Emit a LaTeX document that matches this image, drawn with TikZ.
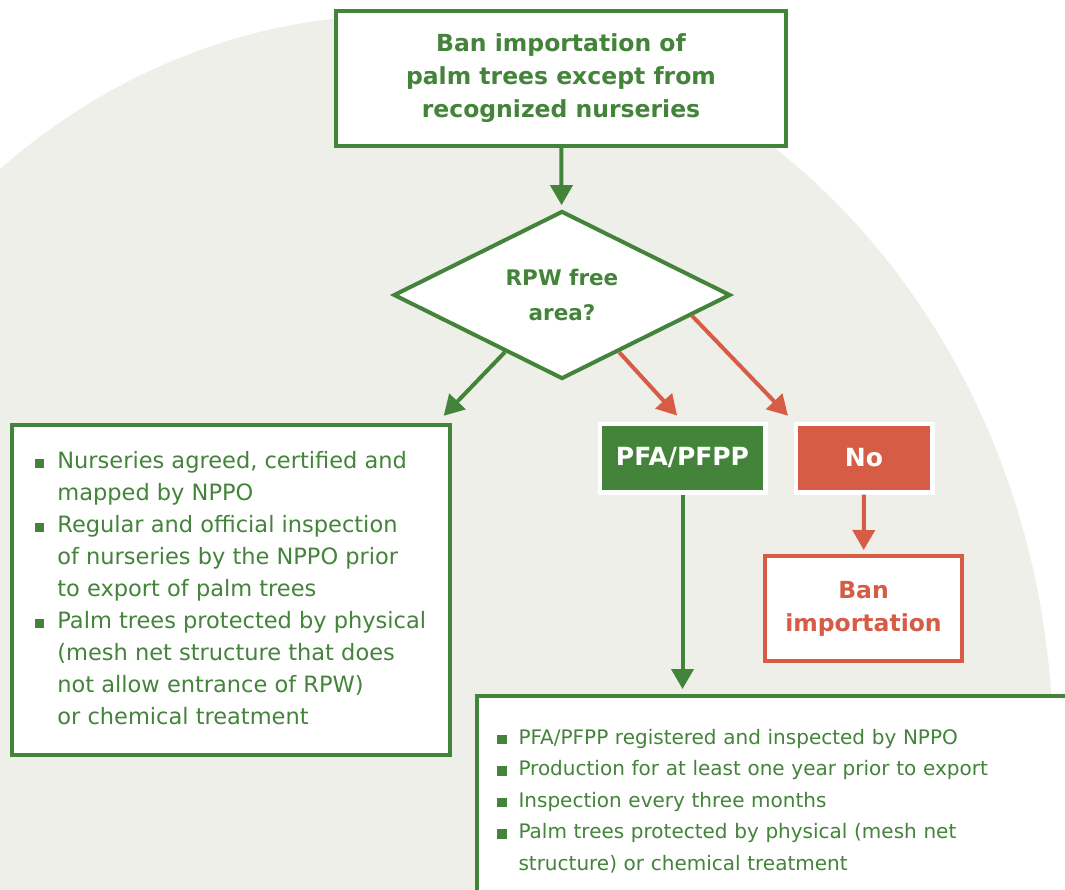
\documentclass[tikz,border=0pt]{standalone}
\usepackage{fontspec}
\setmainfont{DejaVu Sans}
\usetikzlibrary{arrows.meta,shapes.geometric}

\definecolor{pgreen}{HTML}{43833A}
\definecolor{pred}{HTML}{D65C45}
\definecolor{pbg}{HTML}{EFEFE9}
\newcommand{\sqbullet}{\rule{9.5pt}{9.5pt}}

\begin{document}
\begin{tikzpicture}[x=1pt,y=-1pt,>={Triangle[width=22pt,length=20pt]},
                    line width=4pt]
    \tikzstyle{headbox}=[draw=pgreen,fill=white,text=pgreen,align=center,inner sep=0pt,
                         font=\fontsize{23.5}{33}\selectfont\bfseries]
    \tikzstyle{decision}=[diamond,draw=pgreen,fill=white,text=pgreen,align=center,inner sep=0pt,
                          minimum width=337pt,minimum height=168pt,
                          font=\fontsize{21.5}{35}\selectfont\bfseries]
    \tikzstyle{listbox}=[draw=pgreen,fill=white,text=pgreen,inner sep=0pt,
                         font=\fontsize{22.5}{32}\selectfont]
    \tikzstyle{yesbox}=[fill=pgreen,draw=white,line width=4.5pt,text=white,inner sep=0pt,
                        minimum height=68.5pt,font=\fontsize{25}{28}\selectfont\bfseries]
    \tikzstyle{nobox}=[yesbox,fill=pred]
    \tikzstyle{stopbox}=[draw=pred,fill=white,text=pred,align=center,inner sep=0pt,
                         font=\fontsize{23.5}{33}\selectfont\bfseries]
    \tikzstyle{garrow}=[->,draw=pgreen,fill=pgreen]
    \tikzstyle{rarrow}=[->,draw=pred,fill=pred,shorten >=8pt]

    \useasboundingbox (0,0) rectangle (1065,889);
    \clip (0,0) rectangle (1065,889);
    \fill[white] (0,0) rectangle (1065,889);
    \fill[pbg] (400,750) ellipse [x radius=653,y radius=735];

    \node[headbox,minimum width=450pt,minimum height=135pt] (ban) at (561,78.5)
        {Ban importation of\\palm trees except from\\recognized nurseries};
    \node[decision] (rpw) at (562,295) {RPW free\\area?};
    \node[listbox,minimum width=438pt,minimum height=330pt] (nursery) at (230.5,590) {%
        \begin{tabular}{@{}l@{\hspace{13pt}}l@{}}
        \sqbullet & Nurseries agreed, certified and\\
                  & mapped by NPPO\\
        \sqbullet & Regular and official inspection\\
                  & of nurseries by the NPPO prior\\
                  & to export of palm trees\\
        \sqbullet & Palm trees protected by physical\\
                  & (mesh net structure that does\\
                  & not allow entrance of RPW)\\
                  & or chemical treatment
        \end{tabular}};
    \node[yesbox,minimum width=165.5pt] (pfa) at (682.5,458) {PFA/PFPP};
    \node[nobox,minimum width=136.5pt] (no) at (864,458) {No};
    \node[stopbox,minimum width=197pt,minimum height=105pt] (stop) at (863.5,608.5)
        {Ban\\importation};
    \node[listbox,anchor=north west,text width=600pt,align=left,inner xsep=20pt,
          inner ysep=26pt,font=\fontsize{20}{31.5}\selectfont] (pfareq) at (475,694) {%
        \begin{tabular}{@{}l@{\hspace{12pt}}l@{}}
        \sqbullet & PFA/PFPP registered and inspected by NPPO\\
        \sqbullet & Production for at least one year prior to export\\
        \sqbullet & Inspection every three months\\
        \sqbullet & Palm trees protected by physical (mesh net\\
                  & structure) or chemical treatment
        \end{tabular}};

    \path (ban) edge[garrow,shorten >=4pt] (rpw)
          (rpw.225) edge[garrow,shorten >=10pt] (nursery.39)
          (pfa) edge[garrow,shorten >=5pt] (pfa.south |- pfareq.north);
    \path (rpw.-45) edge[rarrow] (pfa.north)
          (rpw.-9) edge[rarrow] (no.north west)
          (no) edge[rarrow,shorten >=4pt] (stop);
\end{tikzpicture}
\end{document}
